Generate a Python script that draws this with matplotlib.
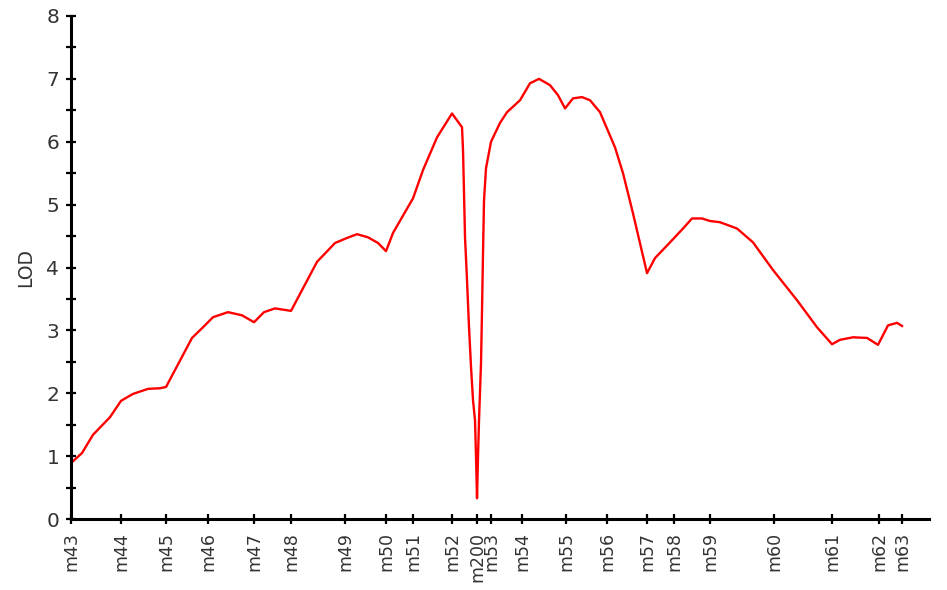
import matplotlib
matplotlib.use("Agg")
import matplotlib.pyplot as plt
from matplotlib.ticker import MultipleLocator

plt.rcParams['font.family'] = ['DejaVu Sans']

# marker names and map positions (cM)
markers = ['m43', 'm44', 'm45', 'm46', 'm47', 'm48', 'm49', 'm50', 'm51', 'm52',
           'm200', 'm53', 'm54', 'm55', 'm56', 'm57', 'm58', 'm59', 'm60', 'm61',
           'm62', 'm63']
marker_pos = [0.0, 5.0, 9.5, 13.7, 18.3, 22.0, 27.4, 31.5, 34.2, 38.1,
              40.6, 42.0, 45.1, 49.5, 53.6, 57.6, 60.3, 63.9, 70.3, 76.1,
              80.8, 83.1]

# LOD profile
pos = [0.0, 1.1, 2.2, 3.9, 5.0, 6.2, 7.7, 8.9, 9.5, 10.4, 12.1, 13.2, 14.2,
       15.7, 17.1, 18.3, 19.3, 20.4, 22.0, 23.1, 24.6, 26.4, 27.6, 28.6, 29.7,
       30.7, 31.5, 32.2, 34.2, 35.2, 36.6, 38.1, 39.1, 39.2, 39.3, 39.4, 39.6,
       39.8, 40.0, 40.2, 40.4, 40.5, 40.6, 40.7, 40.8, 41.0, 41.1, 41.2, 41.3,
       41.5, 42.0, 42.9, 43.6, 44.9, 45.9, 46.8, 47.9, 48.7, 49.4, 50.2, 51.1,
       51.9, 52.9, 54.4, 55.2, 56.2, 57.6, 58.4, 59.9, 61.2, 62.1, 63.1, 63.9,
       64.9, 66.6, 68.2, 70.2, 72.6, 74.6, 76.1, 76.9, 78.2, 79.6, 80.7, 81.7,
       82.6, 83.1]
lod = [0.89, 1.05, 1.34, 1.62, 1.88, 1.99, 2.07, 2.08, 2.10, 2.37, 2.88, 3.05,
       3.21, 3.29, 3.24, 3.13, 3.29, 3.35, 3.31, 3.64, 4.09, 4.39, 4.47, 4.53,
       4.48, 4.39, 4.26, 4.55, 5.10, 5.55, 6.07, 6.45, 6.23, 5.87, 5.18, 4.48,
       3.80, 3.05, 2.42, 1.89, 1.57, 0.99, 0.33, 0.99, 1.57, 2.48, 3.32, 4.23,
       5.07, 5.58, 6.00, 6.30, 6.47, 6.66, 6.93, 7.00, 6.90, 6.74, 6.53, 6.69,
       6.71, 6.66, 6.47, 5.91, 5.50, 4.86, 3.91, 4.15, 4.40, 4.62, 4.78, 4.78,
       4.74, 4.72, 4.62, 4.40, 3.96, 3.48, 3.05, 2.78, 2.85, 2.89, 2.88, 2.77,
       3.08, 3.12, 3.07]

fig = plt.figure(figsize=(9.47, 5.90), dpi=100)
ax = fig.add_axes([0.075, 0.1203, 0.906, 0.8526])

ax.plot(pos, lod, color='red', linewidth=1.7)

ax.set_xlim(0, 85.8)
ax.set_ylim(0, 8)
for s in ['top', 'right']:
    ax.spines[s].set_visible(False)
for s in ['left', 'bottom']:
    ax.spines[s].set_linewidth(2.2)

ax.set_xticks(marker_pos)
ax.set_xticklabels(markers, rotation=90)
ax.yaxis.set_major_locator(MultipleLocator(1))
ax.yaxis.set_minor_locator(MultipleLocator(0.5))
ax.tick_params(axis='both', which='both', direction='inout', length=7, width=1.6,
               colors='black', labelcolor='#333333')
ax.tick_params(axis='x', pad=6, labelsize=12.5)
ax.tick_params(axis='y', pad=5, labelsize=14.5)
ax.set_ylabel('LOD', fontsize=13.5, color='#333333', labelpad=8)

fig.savefig('out.png', dpi=100)
